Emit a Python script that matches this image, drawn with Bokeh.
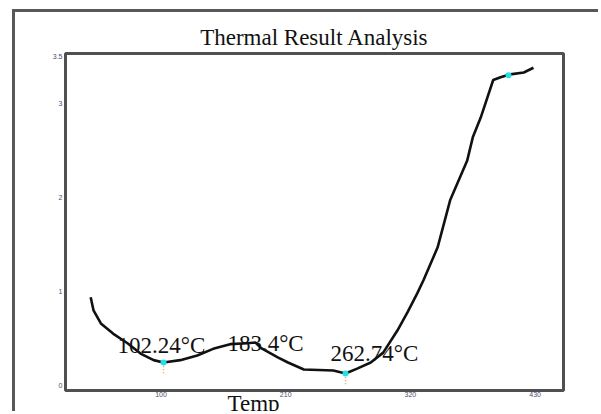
from bokeh.plotting import figure
from bokeh.models import Label, FixedTicker, Range1d, Title
from bokeh.embed import file_html
from bokeh.resources import INLINE

# ---- data ----
temps = [38, 40.5, 47, 58, 70.5, 82, 93.5, 102.24, 117, 132, 146, 161, 176, 183.4, 188,
         203, 212, 226, 252, 262.74, 273, 285, 296, 308.5, 317.5, 326, 331.5, 344, 355,
         370, 375, 382, 393, 399.5, 408, 420, 428.5]
signal = [0.94, 0.80, 0.66, 0.55, 0.45, 0.34, 0.27, 0.245, 0.27, 0.32, 0.39, 0.44, 0.45, 0.457, 0.40,
          0.30, 0.245, 0.17, 0.16, 0.128, 0.18, 0.245, 0.35, 0.585, 0.78, 0.98, 1.12, 1.47, 1.97,
          2.39, 2.64, 2.85, 3.25, 3.28, 3.31, 3.33, 3.38]

peak_temps = [102.24, 183.4, 262.74]
peak_vals = [0.245, 0.457, 0.128]

marker_temps = [102.24, 262.74, 406.5]
marker_vals = [0.245, 0.128, 3.30]

x_ticks = [100, 210, 320, 430]
y_ticks = [0, 1, 2, 3, 3.5]

SERIF = "Liberation Serif"
FS = "23px"

p = figure(width=586, height=402, output_backend="svg", toolbar_location=None,
           x_range=Range1d(15.8, 455), y_range=Range1d(-0.053, 3.532),
           min_border_left=50, min_border_right=38, min_border_top=41, min_border_bottom=24)

# outer frame of the original figure: only its left and top edges are inside the picture
p.styles = {"border-left": "3px solid #585858", "border-top": "3px solid #585858",
            "margin-left": "12px", "margin-top": "9px"}

p.title.text = "Thermal Result Analysis"
p.title.align = "center"
p.title.text_font = SERIF
p.title.text_font_style = "normal"
p.title.text_font_size = FS
p.title.text_color = "#111111"
p.title.standoff = 7

p.outline_line_color = "#505050"
p.outline_line_width = 3
p.xgrid.visible = False
p.ygrid.visible = False
p.background_fill_color = "white"
p.border_fill_color = "white"

for ax in (p.xaxis[0], p.yaxis[0]):
    ax.axis_line_color = None
    ax.major_tick_line_color = None
    ax.minor_tick_line_color = None
    ax.major_tick_out = 0
    ax.major_tick_in = 0
    ax.minor_tick_out = 0
    ax.minor_tick_in = 0
    ax.major_label_text_font_size = "7px"
    ax.major_label_text_color = "#4b4b6e"
    ax.major_label_standoff = 3
p.xaxis[0].major_label_standoff = 1
p.xaxis[0].ticker = FixedTicker(ticks=x_ticks)
p.yaxis[0].ticker = FixedTicker(ticks=y_ticks)

# x axis title, placed off-centre like the original
p.add_layout(Title(text="Temp", align="left", vertical_align="top", offset=162, standoff=-18,
                   text_font=SERIF, text_font_size=FS, text_font_style="normal",
                   text_color="#111111"), "below")

p.line(temps, signal, line_color="#111111", line_width=2.6)

# small dotted drop marks under the two minima
p.segment(x0=marker_temps[:2], y0=[v - 0.04 for v in marker_vals[:2]],
          x1=marker_temps[:2], y1=[v - 0.12 for v in marker_vals[:2]],
          line_color="#e8a050", line_width=1.5, line_dash="1 2")
p.scatter(marker_temps, marker_vals, size=6, color="#22e0e8", line_color=None)

offsets = [(-2, 17), (10, -1), (29, 20)]
for t, v, (dx, dy) in zip(peak_temps, peak_vals, offsets):
    p.add_layout(Label(x=t, y=v, x_offset=dx, y_offset=dy, text=f"{t}°C",
                       text_font=SERIF, text_font_size=FS, text_color="#111111",
                       text_align="center", text_baseline="alphabetic"))

open("out.html", "w").write(file_html(p, INLINE))
